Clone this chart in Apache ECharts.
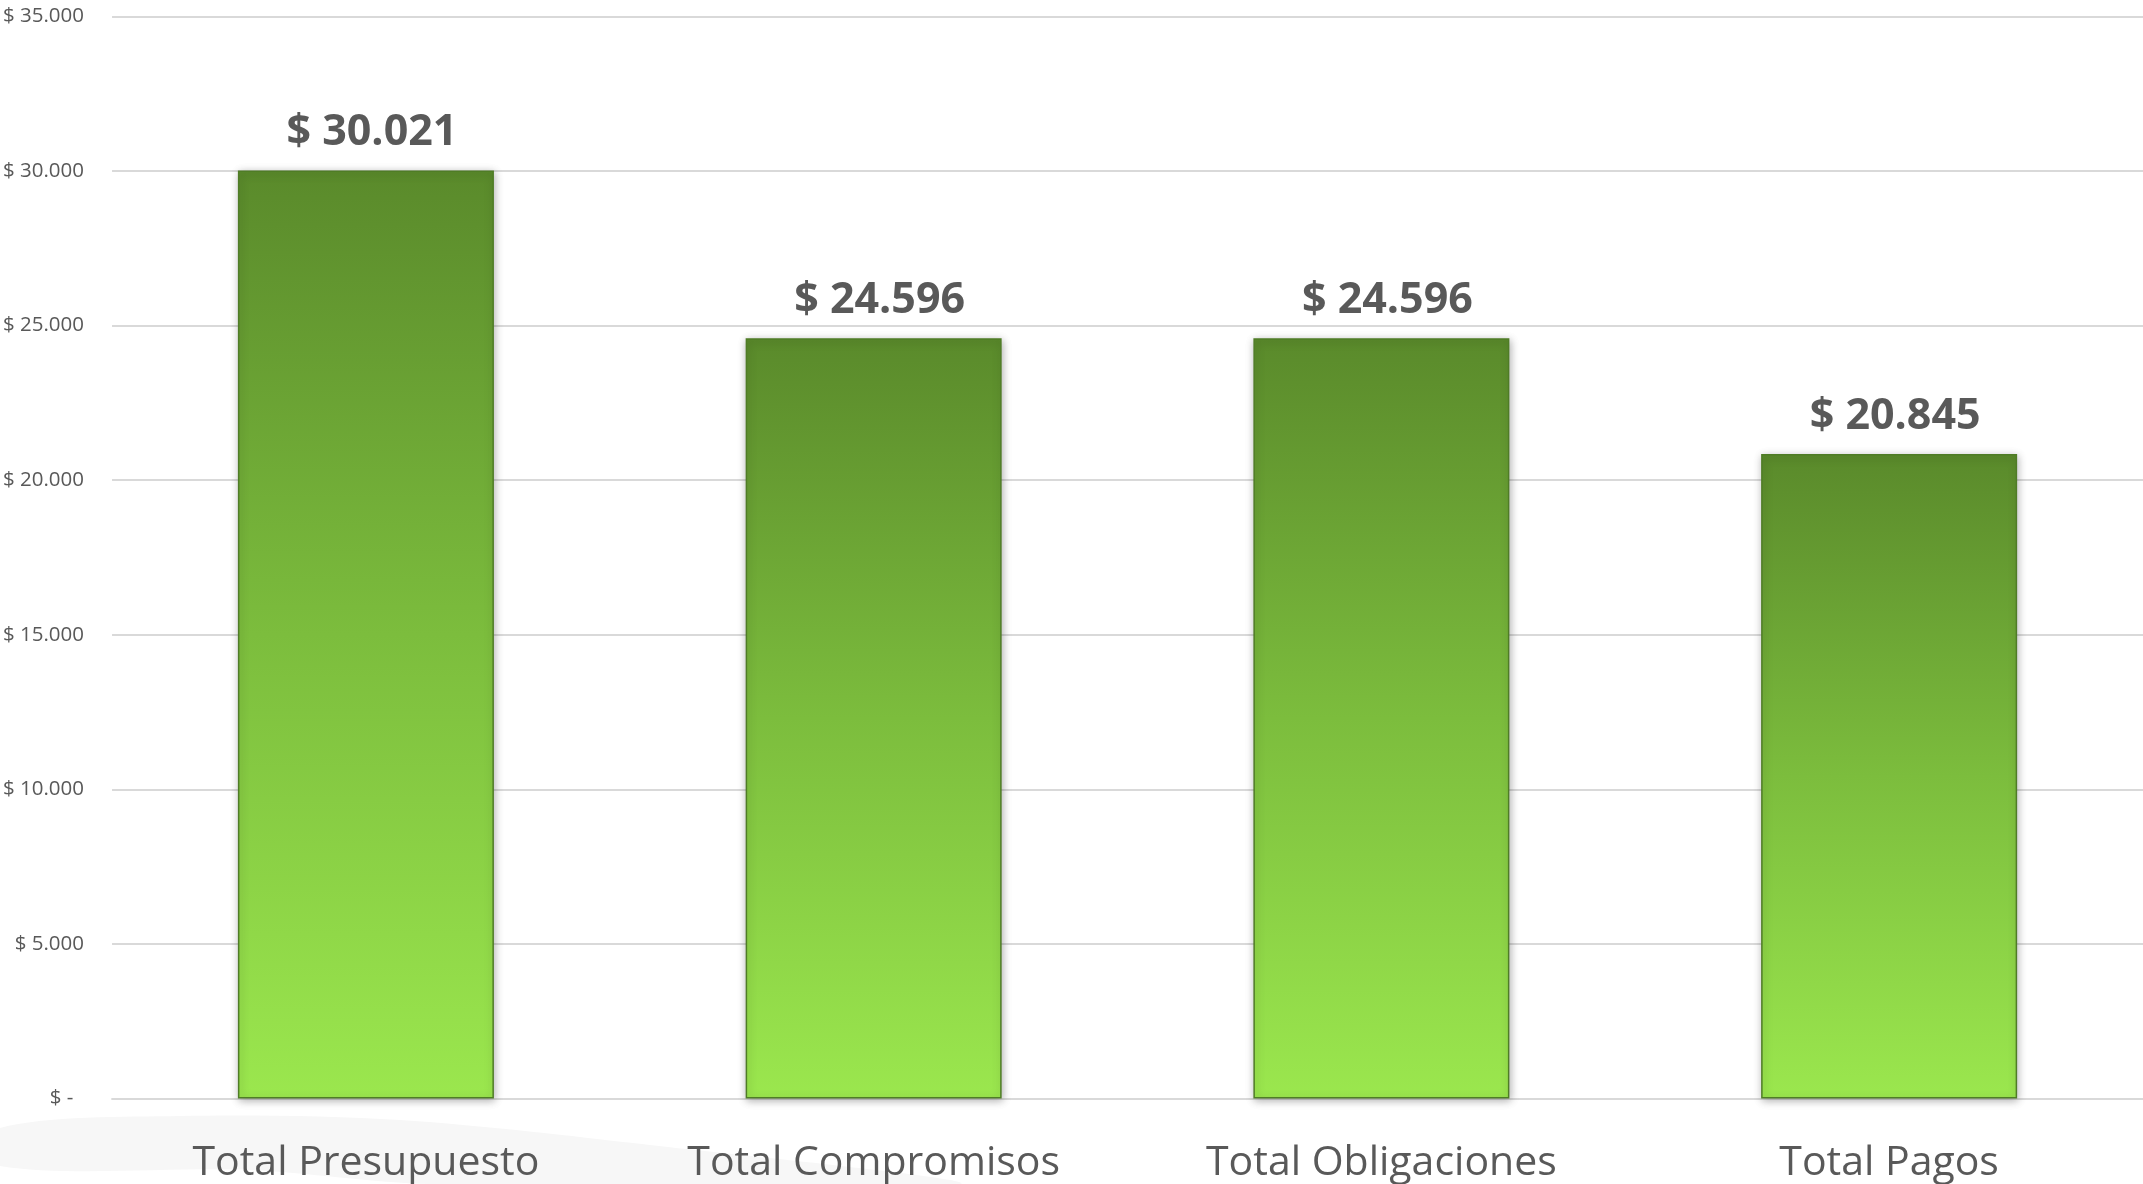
<!DOCTYPE html>
<html>
<head>
<meta charset="utf-8">
<script src="https://cdn.jsdelivr.net/npm/echarts@6/dist/echarts.min.js"></script>
<style>
  html, body { margin: 0; padding: 0; background: #ffffff; }
  #chart { width: 2143px; height: 1184px; }
</style>
</head>
<body>
<div id="chart"></div>
<script>
// ---- Data ----
const categories = ['Total Presupuesto', 'Total Compromisos', 'Total Obligaciones', 'Total Pagos'];
const values = [30021, 24596, 24596, 20845];
const yTicks = { min: 0, max: 35000, interval: 5000 };

function fmtThousands(v) {
  return String(Math.round(v)).replace(/\B(?=(\d{3})+(?!\d))/g, '.');
}

const chart = echarts.init(document.getElementById('chart'), null, { renderer: 'canvas' });

const option = {
  backgroundColor: '#ffffff',
  animation: false,
  graphic: [{
    type: 'polygon',
    z: -10,
    silent: true,
    shape: {
      points: [[0, 1128], [180, 1116], [400, 1120], [650, 1145], [960, 1184], [430, 1184], [250, 1170], [0, 1166]],
      smooth: 0.3
    },
    style: { fill: '#f7f7f7' }
  }],
  grid: {
    left: 110,
    right: -2,
    top: 16.5,
    bottom: 85.5,
    containLabel: false
  },
  xAxis: {
    type: 'category',
    data: categories,
    axisLine: { show: true, lineStyle: { color: '#d9d9d9', width: 2 } },
    axisTick: { show: false },
    axisLabel: {
      color: '#595959',
      fontFamily: 'Open Sans',
      fontSize: 41,
      margin: 44
    }
  },
  yAxis: {
    type: 'value',
    min: yTicks.min,
    max: yTicks.max,
    interval: yTicks.interval,
    axisLine: { show: false },
    axisTick: { show: false },
    splitLine: { lineStyle: { color: '#d9d9d9', width: 2 } },
    axisLabel: {
      color: '#595959',
      fontFamily: 'Open Sans',
      fontSize: 20.5,
      margin: 28,
      formatter: function (v) {
        return v === 0 ? '$ -  ' : '$ ' + fmtThousands(v);
      }
    }
  },
  series: [{
    type: 'bar',
    data: values,
    barWidth: 256,
    itemStyle: {
      color: {
        type: 'linear', x: 0, y: 0, x2: 0, y2: 1,
        colorStops: [
          { offset: 0, color: '#5a8a2b' },
          { offset: 0.5, color: '#7cbd3d' },
          { offset: 1, color: '#9be74e' }
        ]
      },
      borderColor: '#4f7c26',
      borderWidth: 1.5,
      shadowBlur: 8,
      shadowColor: 'rgba(0,0,0,0.30)',
      shadowOffsetX: 1,
      shadowOffsetY: 2
    },
    label: {
      show: true,
      position: 'top',
      distance: 16,
      offset: [6, 0],
      color: '#595959',
      fontFamily: 'Open Sans',
      fontWeight: 'bold',
      fontSize: 43,
      formatter: function (p) { return '$ ' + fmtThousands(p.value); }
    }
  }]
};

chart.setOption(option);
</script>
</body>
</html>
